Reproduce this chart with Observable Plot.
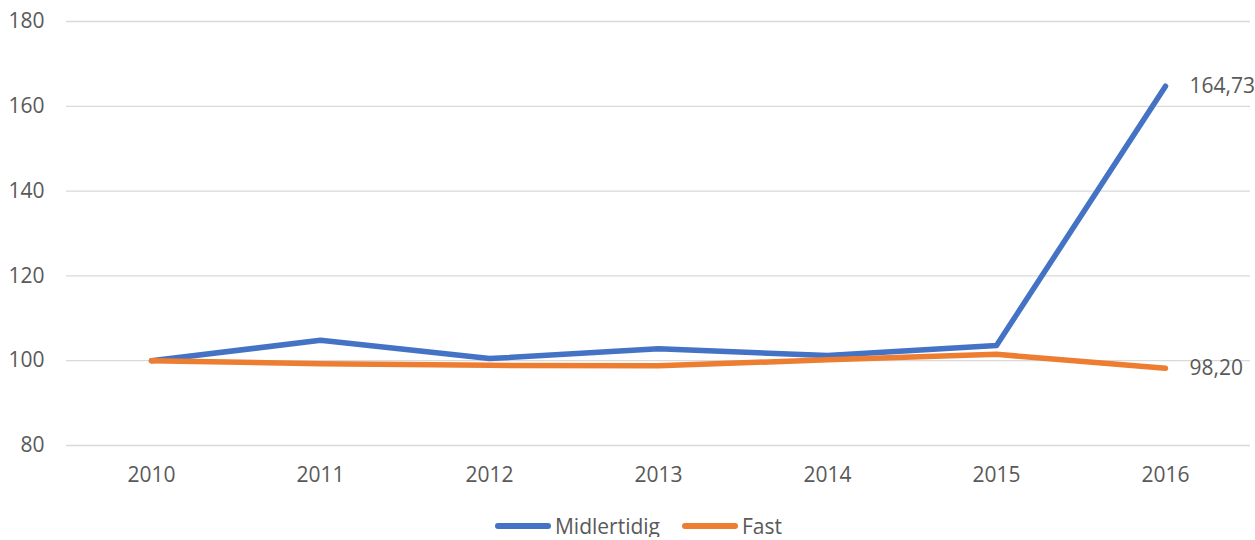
<!DOCTYPE html>
<html>
<head>
<meta charset="utf-8">
<script src="https://cdn.jsdelivr.net/npm/d3@7"></script>
<script src="https://cdn.jsdelivr.net/npm/@observablehq/plot@0.6"></script>
<style>
  body { margin: 0; background: #fff; font-family: "Open Sans", sans-serif; overflow: hidden; }
  #chart { width: 1255px; }
  .legend { display: flex; justify-content: center; align-items: center; gap: 22px; font-size: 21px; line-height: 1; color: #595959; height: 22px; margin-top: 15px; margin-left: 22px; }
  .legend .item { display: flex; align-items: center; gap: 4px; }
  .legend .sw { width: 56px; height: 6px; border-radius: 3px; display: inline-block; }
</style>
</head>
<body>
<div id="chart"></div>
<script>
const years = ["2010", "2011", "2012", "2013", "2014", "2015", "2016"];
const seriesNames = ["Midlertidig", "Fast"];
const midlertidig = [100, 104.8, 100.5, 102.8, 101.2, 103.6, 164.73];
const fast = [100, 99.3, 98.9, 98.8, 100.2, 101.5, 98.20];
const colors = ["#4472C4", "#ED7D31"];
const yTicks = [80, 100, 120, 140, 160, 180];

const rows = [];
[midlertidig, fast].forEach((vals, si) => {
  vals.forEach((v, i) => rows.push({ year: years[i], value: v, series: seriesNames[si] }));
});
const lastRows = rows.filter(d => d.year === years[years.length - 1]);
const fmt = v => v.toFixed(2).replace(".", ",");

const chart = Plot.plot({
  width: 1255,
  height: 500,
  marginTop: 21,
  marginBottom: 55,
  marginLeft: 66,
  marginRight: 5,
  style: { fontFamily: "Open Sans, sans-serif", fontSize: "21px", color: "#595959", background: "#fff", overflow: "visible", display: "block" },
  x: { type: "point", domain: years, padding: 0.5, label: null, tickSize: 0, tickPadding: 22 },
  y: { domain: [80, 180], ticks: yTicks, label: null, tickSize: 0, tickPadding: 22 },
  color: { domain: seriesNames, range: colors },
  marks: [
    Plot.gridY(yTicks, { stroke: "#D9D9D9", strokeOpacity: 1, strokeWidth: 1.3 }),
    Plot.axisX({ tickSize: 0, tickPadding: 22, fill: "#595959", fontSize: 21 }),
    Plot.axisY(yTicks, { tickSize: 0, tickPadding: 22, fill: "#595959", fontSize: 21 }),
    Plot.line(rows, { x: "year", y: "value", z: "series", stroke: "series", strokeWidth: 5.5, strokeLinecap: "round", strokeLinejoin: "round" }),
    Plot.text(lastRows, { x: "year", y: "value", text: d => fmt(d.value), textAnchor: "start", dx: 24, fill: "#595959", fontSize: 21 })
  ]
});
document.getElementById("chart").appendChild(chart);

const legend = document.createElement("div");
legend.className = "legend";
seriesNames.forEach((n, i) => {
  const item = document.createElement("span");
  item.className = "item";
  const sw = document.createElement("span");
  sw.className = "sw";
  sw.style.background = colors[i];
  const t = document.createElement("span");
  t.textContent = n;
  item.appendChild(sw);
  item.appendChild(t);
  legend.appendChild(item);
});
document.getElementById("chart").appendChild(legend);
</script>
</body>
</html>
